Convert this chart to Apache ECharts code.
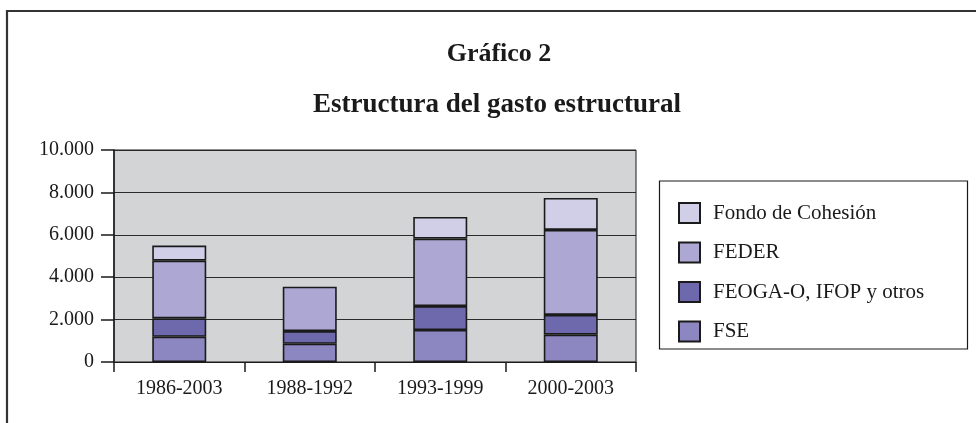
<!DOCTYPE html>
<html>
<head>
<meta charset="utf-8">
<script src="https://cdn.jsdelivr.net/npm/echarts@6/dist/echarts.min.js"></script>
<style>
  html, body { margin: 0; padding: 0; background: #fff; }
  #chart { width: 976px; height: 423px; }
</style>
</head>
<body>
<div id="chart"></div>
<script>
// values
const categories = ['1986-2003', '1988-1992', '1993-1999', '2000-2003']
const fse = [1190, 860, 1510, 1290]
const feoga = [870, 600, 1130, 930]
const feder = [2720, 2090, 3180, 4010]
const cohesion = [710, null, 1020, 1510]
const legendOrder = ['Fondo de Cohesión', 'FEDER', 'FEOGA-O, IFOP y otros', 'FSE']

const font = 'Liberation Serif'
const ink = '#1a1a1a'

function seriesOf(name, data, color) {
  return {
    name: name,
    type: 'bar',
    stack: 'gasto',
    barWidth: 54,
    data: data,
    itemStyle: { color: color, borderColor: ink, borderWidth: 1.6 },
    emphasis: { disabled: true },
    animation: false
  }
}

const chart = echarts.init(document.getElementById('chart'))
chart.setOption({
  backgroundColor: '#fff',
  textStyle: { fontFamily: font },
  grid: {
    left: 114, right: 340, top: 150, bottom: 61,
    show: true, backgroundColor: '#d3d4d6', borderColor: ink, borderWidth: 1
  },
  legend: {
    orient: 'vertical',
    left: 659, top: 181,
    padding: [21, 10, 15, 19],
    itemWidth: 21, itemHeight: 20, itemGap: 17.5,
    icon: 'rect',
    data: legendOrder,
    selectedMode: false,
    textStyle: { fontFamily: font, fontSize: 21, color: ink, padding: [0, 0, 0, 8] }
  },
  xAxis: {
    type: 'category',
    data: categories,
    axisLine: { lineStyle: { color: ink, width: 1 } },
    axisTick: { show: true, length: 10, alignWithLabel: false, lineStyle: { color: ink, width: 1.5 } },
    axisLabel: { fontFamily: font, fontSize: 20, color: ink, margin: 17 }
  },
  yAxis: {
    type: 'value',
    min: 0, max: 10000, interval: 2000,
    axisLine: { show: true, lineStyle: { color: ink, width: 1.5 } },
    axisTick: { show: true, length: 13, lineStyle: { color: ink, width: 1.5 } },
    splitLine: { lineStyle: { color: '#2a2a2a', width: 1.2 } },
    axisLabel: {
      fontFamily: font, fontSize: 20, color: ink, margin: 20,
      formatter: v => v.toString().replace(/\B(?=(\d{3})+(?!\d))/g, '.')
    }
  },
  series: [
    seriesOf('FSE', fse, '#8c87c1'),
    seriesOf('FEOGA-O, IFOP y otros', feoga, '#6e68ac'),
    seriesOf('FEDER', feder, '#ada7d3'),
    seriesOf('Fondo de Cohesión', cohesion, '#d1cee8')
  ],
  graphic: [
    // outer frame (top and left edges)
    { type: 'polyline', shape: { points: [[7, 423], [7, 11], [976, 11]] },
      style: { stroke: '#333', lineWidth: 2.2, fill: null }, silent: true },
    // legend box
    { type: 'rect', shape: { x: 659.5, y: 181, width: 308, height: 168 },
      style: { stroke: ink, lineWidth: 1.2, fill: null }, silent: true },
    { type: 'text', x: 499, y: 54,
      style: { text: 'Gráfico 2', font: 'bold 26px "Liberation Serif"', fill: ink,
        textAlign: 'center', textVerticalAlign: 'middle' } },
    { type: 'text', x: 497, y: 105,
      style: { text: 'Estructura del gasto estructural', font: 'bold 27px "Liberation Serif"', fill: ink,
        textAlign: 'center', textVerticalAlign: 'middle' } }
  ]
})
</script>
</body>
</html>
